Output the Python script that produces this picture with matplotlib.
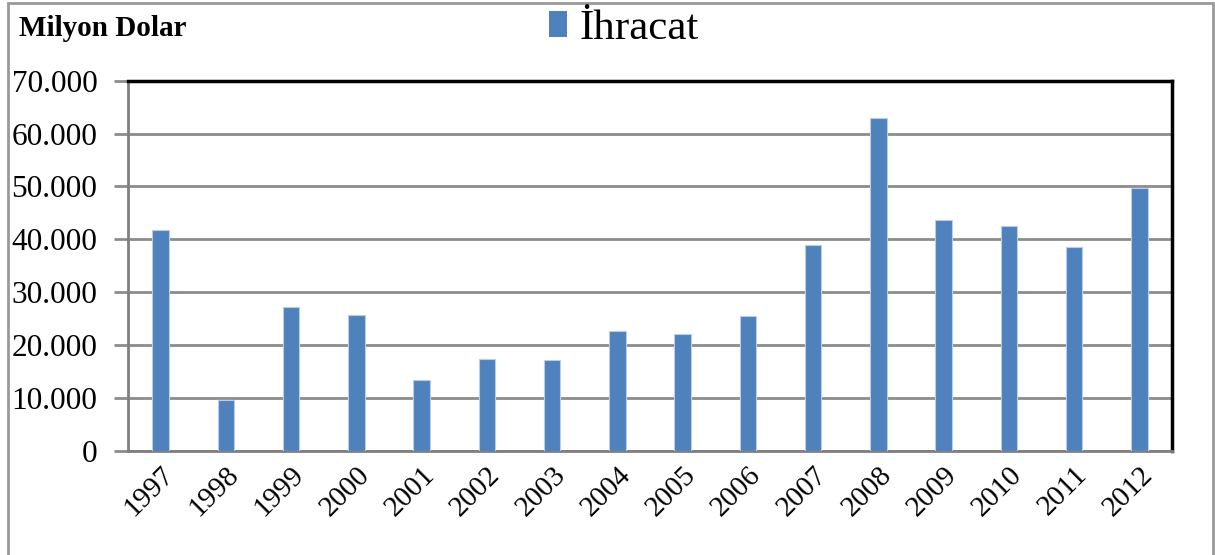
import matplotlib.pyplot as plt
from matplotlib.ticker import FuncFormatter
from matplotlib.patches import Rectangle, Patch
import matplotlib.transforms as mtransforms

years = ['1997', '1998', '1999', '2000', '2001', '2002', '2003', '2004',
         '2005', '2006', '2007', '2008', '2009', '2010', '2011', '2012']
ihracat = [41750, 9600, 27200, 25600, 13400, 17400, 17200, 22600,
           22100, 25500, 38900, 62900, 43700, 42600, 38600, 49700]

plt.rcParams['font.family'] = ['Liberation Serif', 'DejaVu Serif']

bar_color = '#4F81BD'
grid_color = '#8C8C8C'

fig = plt.figure(figsize=(12.15, 5.55), dpi=100)
ax = fig.add_axes([128/1215, 1 - 450.7/555, (1172 - 128)/1215, (450.7 - 80.7)/555])

x = range(len(years))
ax.bar(x, ihracat, width=0.25, color=bar_color, edgecolor='#B9CDE5', linewidth=0.8, zorder=3)

ax.set_xlim(-0.5, len(years) - 0.5)
ax.set_ylim(0, 70000)
ax.set_yticks(range(0, 70001, 10000))
ax.yaxis.set_major_formatter(FuncFormatter(lambda v, p: f'{int(v):,}'.replace(',', '.')))
ax.yaxis.grid(True, color=grid_color, linewidth=2, zorder=0)
ax.set_axisbelow(True)

ax.set_xticks(list(x))
ax.set_xticklabels(years, rotation=45, ha='right', rotation_mode='anchor', fontsize=21)
offset = mtransforms.ScaledTranslation(0.14, -0.02, fig.dpi_scale_trans)
for lab in ax.get_xticklabels():
    lab.set_transform(lab.get_transform() + offset)
ax.tick_params(axis='x', length=0, pad=8)
ax.tick_params(axis='y', labelsize=22.5, length=10, width=2, color=grid_color, pad=12)

for s in ['left', 'bottom']:
    ax.spines[s].set_color('#7F7F7F')
    ax.spines[s].set_linewidth(2)
for s in ['top', 'right']:
    ax.spines[s].set_color('black')
    ax.spines[s].set_linewidth(2.5)

fig.text(19/1215, 1 - 29/555, 'Milyon Dolar', fontsize=21, fontweight='bold', va='center', ha='left')

handle = Patch(facecolor=bar_color, edgecolor='none')
fig.legend([handle], ['İhracat'], loc='center', bbox_to_anchor=(624/1215, 1 - 29/555),
           frameon=False, fontsize=31, handlelength=0.4, handleheight=0.55, handletextpad=0.3)

fig.patches.append(Rectangle((8/1215, -0.05), 1205/1215, 1.05 - 3/555, transform=fig.transFigure,
                             fill=False, edgecolor='#999999', linewidth=2))

fig.savefig('out.png', dpi=100)
